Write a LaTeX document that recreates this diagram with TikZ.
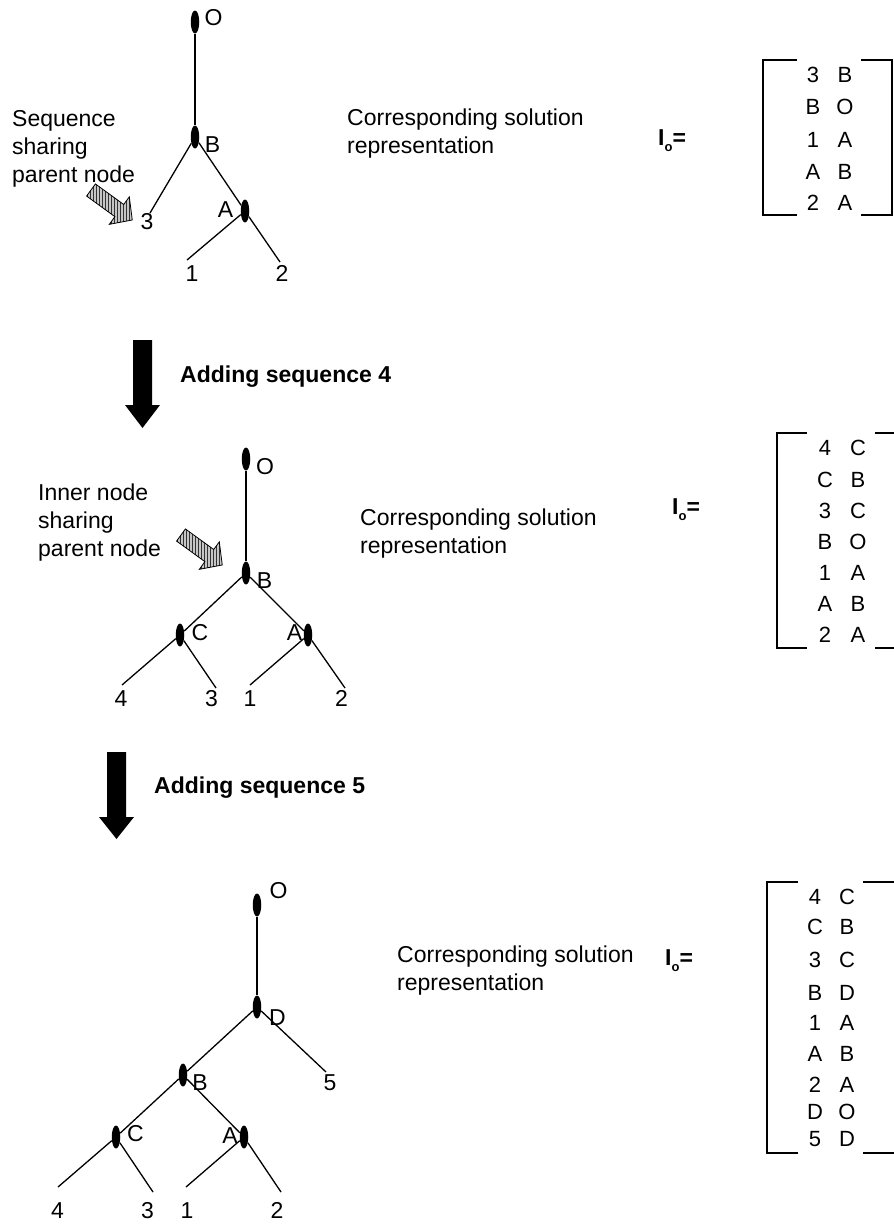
\documentclass[tikz,border=0pt]{standalone}
\usepackage{fontspec}
\setmainfont{Liberation Sans}
\usetikzlibrary{shapes.geometric,patterns}

\tikzset{
  every node/.style={inner sep=0pt, font=\fontsize{23}{28}\selectfont},
  lab/.style={text height=15.8pt, text depth=0pt},
  vtx/.style={ellipse, fill=black, minimum width=8.5pt, minimum height=23pt, inner sep=0pt},
  edge/.style={line width=1.3pt},
  note/.style={align=left, anchor=west},
  addlbl/.style={anchor=west, font=\bfseries\fontsize{23}{28}\selectfont},
  ioeq/.style={anchor=west, font=\bfseries\fontsize{23}{28}\selectfont},
  entry/.style={font=\fontsize{22}{24}\selectfont, text height=15.1pt, text depth=0pt},
  bracket/.style={line width=2.8pt},
  bigarrow/.style={fill=black},
  hatcharrow/.style={draw=black, line width=0.8pt, line join=miter,
    preaction={fill=gray!45}, pattern=vertical lines, pattern color=black!80},
}

\begin{document}
\begin{tikzpicture}[x=1pt,y=-1pt]
\fill[white] (0,0) rectangle (894,1224);
\useasboundingbox (0,0) rectangle (894,1224);

% ---------------- first tree ----------------
\node[vtx] (t1O) at (195,22) {};
\node[vtx] (t1B) at (195,137) {};
\node[vtx] (t1A) at (245,211) {};
\coordinate (t1e3) at (150,213);
\coordinate (t1e1) at (187,260);
\coordinate (t1e2) at (280,262);
\draw[edge] (t1O) -- (t1B);
\draw[edge] (t1B) -- (t1e3);
\draw[edge] (t1B) -- (t1A);
\draw[edge] (t1A) -- (t1e1);
\draw[edge] (t1A) -- (t1e2);
\node[lab] (t1Ol) at (213.5,17.5) {O};
\node[lab] (t1Bl) at (212.5,145) {B};
\node[lab] (t1Al) at (225.5,209.5) {A};
\node[lab] (t1l3) at (147,222) {3};
\node[lab] (t1l1) at (192,274) {1};
\node[lab] (t1l2) at (282,274) {2};

\node[note] (t1note) at (12,149) {Sequence\\sharing\\parent node};
\begin{scope}[shift={(91,190)}, rotate=-36]
  \path[hatcharrow] (0,-7.5) -- (35,-7.5) -- (35,-17) -- (51,0) -- (35,17) -- (35,7.5) -- (0,7.5) -- cycle;
\end{scope}

\node[note] (t1txt) at (347,134) {Corresponding solution\\representation};
\node[ioeq] (io1) at (658,141) {I\raisebox{-0.25em}{\fontsize{13}{13}\selectfont o}=};

% first matrix
\draw[bracket] (797,60) -| (763,215) -- (797,215);
\draw[bracket] (861,60) -| (892,215) -- (861,215);
\foreach \a/\b/\y [count=\i] in {3/B/75, B/O/107, 1/A/140, A/B/172, 2/A/203} {
  \node[entry] (m1a\i) at (813,\y) {\a};
  \node[entry] (m1b\i) at (845,\y) {\b};
}

% ---------------- step arrow 1 ----------------
\fill[bigarrow] (133,340) -- (152,340) -- (152,405) -- (160,405) -- (142.5,428)
  -- (125,405) -- (133,405) -- cycle;
\node[addlbl] (add4) at (180,377) {Adding sequence 4};

% ---------------- second tree ----------------
\node[vtx] (t2O) at (246,459) {};
\node[vtx] (t2B) at (246,573) {};
\node[vtx] (t2C) at (180,635) {};
\node[vtx] (t2A) at (308,635) {};
\coordinate (t2e4) at (122,685);
\coordinate (t2e3) at (216,688);
\coordinate (t2e1) at (250,685);
\coordinate (t2e2) at (345,688);
\draw[edge] (t2O) -- (t2B);
\draw[edge] (t2B) -- (t2C);
\draw[edge] (t2B) -- (t2A);
\draw[edge] (t2C) -- (t2e4);
\draw[edge] (t2C) -- (t2e3);
\draw[edge] (t2A) -- (t2e1);
\draw[edge] (t2A) -- (t2e2);
\node[lab] (t2Ol) at (265,467) {O};
\node[lab] (t2Bl) at (264.5,580.5) {B};
\node[lab] (t2Cl) at (200,633) {C};
\node[lab] (t2Al) at (294.5,633) {A};
\node[lab] (t2l4) at (121,699) {4};
\node[lab] (t2l3) at (211.5,699) {3};
\node[lab] (t2l1) at (250,699) {1};
\node[lab] (t2l2) at (341.5,699) {2};

\node[note] (t2note) at (38,523) {Inner node\\sharing\\parent node};
\begin{scope}[shift={(181,535)}, rotate=-36]
  \path[hatcharrow] (0,-7.5) -- (35,-7.5) -- (35,-17) -- (51,0) -- (35,17) -- (35,7.5) -- (0,7.5) -- cycle;
\end{scope}

\node[note] (t2txt) at (360,534) {Corresponding solution\\representation};
\node[ioeq] (io2) at (672,510) {I\raisebox{-0.25em}{\fontsize{13}{13}\selectfont o}=};

% second matrix
\draw[bracket] (807,433) -| (777,648) -- (807,648);
\draw[bracket] (875,433) -- (894,433);
\draw[bracket] (875,648) -- (894,648);
\foreach \a/\b/\y [count=\i] in {4/C/448, C/B/480, 3/C/511, B/O/542, 1/A/573, A/B/604, 2/A/635} {
  \node[entry] (m2a\i) at (825,\y) {\a};
  \node[entry] (m2b\i) at (858,\y) {\b};
}

% ---------------- step arrow 2 ----------------
\fill[bigarrow] (107,752) -- (126,752) -- (126,817) -- (134,817) -- (116.5,839)
  -- (99,817) -- (107,817) -- cycle;
\node[addlbl] (add5) at (154,788) {Adding sequence 5};

% ---------------- third tree ----------------
\node[vtx] (t3O) at (257,905) {};
\node[vtx] (t3D) at (257,1007) {};
\node[vtx] (t3B) at (183,1075) {};
\node[vtx] (t3C) at (116,1137) {};
\node[vtx] (t3A) at (244,1137) {};
\coordinate (t3e5) at (326,1072);
\coordinate (t3e4) at (58,1187);
\coordinate (t3e3) at (153,1192);
\coordinate (t3e1) at (186,1187);
\coordinate (t3e2) at (281,1192);
\draw[edge] (t3O) -- (t3D);
\draw[edge] (t3D) -- (t3B);
\draw[edge] (t3D) -- (t3e5);
\draw[edge] (t3B) -- (t3C);
\draw[edge] (t3B) -- (t3A);
\draw[edge] (t3C) -- (t3e4);
\draw[edge] (t3C) -- (t3e3);
\draw[edge] (t3A) -- (t3e1);
\draw[edge] (t3A) -- (t3e2);
\node[lab] (t3Ol) at (278.5,890.5) {O};
\node[lab] (t3Dl) at (277.5,1018) {D};
\node[lab] (t3Bl) at (200,1083) {B};
\node[lab] (t3Cl) at (135.5,1134) {C};
\node[lab] (t3Al) at (230,1136) {A};
\node[lab] (t3l5) at (330,1083) {5};
\node[lab] (t3l4) at (57.5,1211) {4};
\node[lab] (t3l3) at (147.5,1211) {3};
\node[lab] (t3l1) at (187,1211) {1};
\node[lab] (t3l2) at (277,1211) {2};

\node[note] (t3txt) at (397,971) {Corresponding solution\\representation};
\node[ioeq] (io3) at (665,961) {I\raisebox{-0.25em}{\fontsize{13}{13}\selectfont o}=};

% third matrix
\draw[bracket] (798,882) -| (767,1153) -- (798,1153);
\draw[bracket] (863,882) -- (894,882);
\draw[bracket] (863,1153) -- (894,1153);
\foreach \a/\b/\y [count=\i] in {4/C/897, C/B/927, 3/C/960, B/D/993, 1/A/1023, A/B/1054, 2/A/1085, D/O/1112, 5/D/1139} {
  \node[entry] (m3a\i) at (815,\y) {\a};
  \node[entry] (m3b\i) at (847,\y) {\b};
}
\end{tikzpicture}
\end{document}
